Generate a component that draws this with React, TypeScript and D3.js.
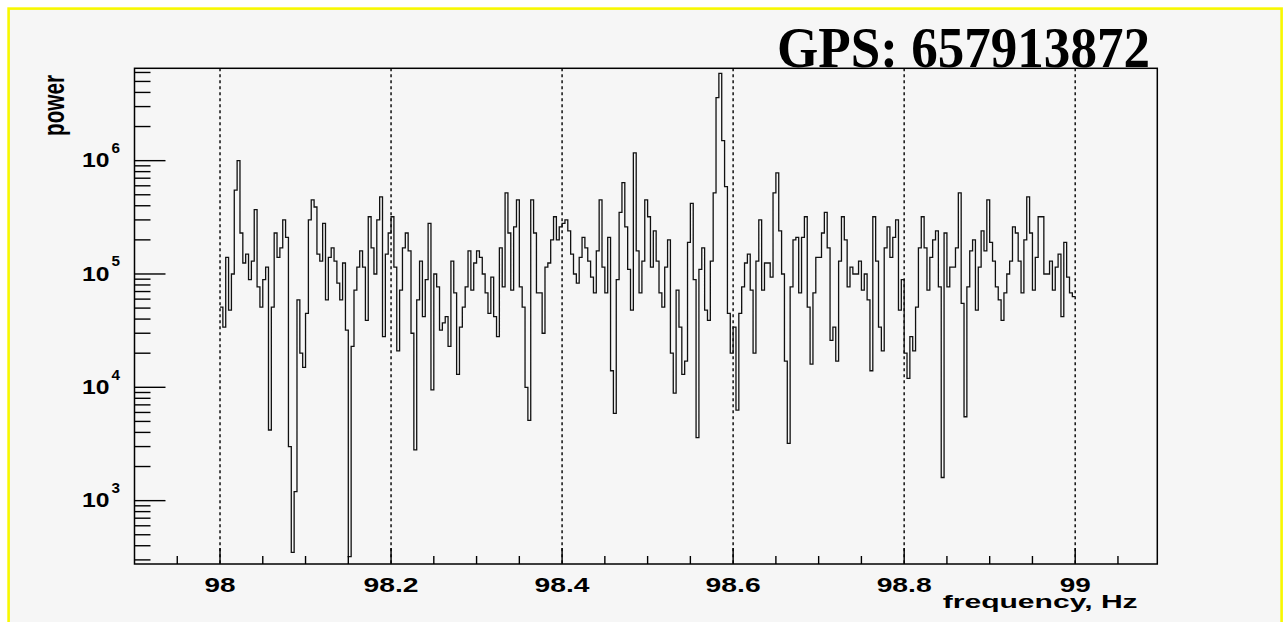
import React from "react";
import * as d3 from "d3";

// ---- data ----
const binStart = 98.0; // Hz, low edge of first bin
const binWidth = 1 / 300; // Hz
const power: number[] = [
  5.1e4, 3.4e4, 1.4e5, 4.8e4, 1.0e5, 5.5e5, 1.0e6, 2.3e5, 1.25e5, 1.5e5,
  8.9e4, 1.3e5, 3.7e5, 7.7e4, 5.1e4, 8.9e4, 1.15e5, 4.2e3, 5.1e4, 2.3e5,
  1.4e5, 1.7e5, 3.0e5, 2.1e5, 3.0e3, 3.5e2, 1.2e3, 5.9e4, 2.0e4, 1.5e4,
  4.5e4, 3.0e5, 4.5e5, 3.9e5, 1.5e5, 1.3e5, 2.8e5, 5.9e4, 1.4e5, 1.7e5,
  1.3e5, 8.3e4, 5.9e4, 1.25e5, 3.2e4, 3.2e2, 2.3e4, 7.2e4, 1.15e5, 1.6e5,
  1.15e5, 3.9e4, 3.2e5, 1.7e5, 1.0e5, 3.0e5, 4.8e5, 2.8e4, 1.5e5, 2.3e5,
  3.2e5, 1.15e5, 2.1e4, 7.2e4, 1.7e5, 2.3e5, 1.6e5, 3.0e4, 2.8e3, 5.9e4,
  1.3e5, 4.2e4, 8.9e4, 2.8e5, 9.5e3, 1.0e5, 7.7e4, 3.2e4, 3.7e4, 4.2e4,
  2.3e4, 1.3e5, 6.8e4, 1.3e4, 3.4e4, 5.1e4, 7.7e4, 1.6e5, 7.2e4, 1.25e5,
  1.6e5, 1.4e5, 1.0e5, 6.8e4, 4.5e4, 9.4e4, 4.2e4, 2.8e4, 1.7e5, 7.7e4,
  5.2e5, 2.3e5, 7.2e4, 2.6e5, 4.5e5, 7.7e4, 5.1e4, 1.0e4, 5.1e3, 4.5e5,
  2.3e5, 6.8e4, 6.8e4, 3.0e4, 1.15e5, 1.25e5, 2.0e5, 3.2e5, 2.0e5, 2.6e5,
  2.8e5, 3.0e5, 2.4e5, 1.5e5, 1.0e5, 8.3e4, 1.4e5, 2.1e5, 1.7e5, 1.3e5,
  9.4e4, 6.8e4, 1.6e5, 4.5e5, 1.15e5, 6.8e4, 2.1e5, 1.4e4, 5.9e3, 8.9e4,
  3.5e5, 6.4e5, 2.6e5, 1.1e5, 4.8e4, 1.17e6, 1.6e5, 6.8e4, 1.3e5, 4.5e5,
  3.2e5, 1.15e5, 2.4e5, 1.3e5, 6.8e4, 5.1e4, 1.15e5, 2.0e5, 2.0e4, 8.9e3,
  7.2e4, 3.4e4, 1.3e4, 1.7e4, 1.9e5, 4.2e5, 8.9e4, 3.6e3, 1.1e5, 1.7e5,
  4.8e4, 3.9e4, 1.3e5, 5.2e5, 3.6e6, 5.9e6, 1.5e6, 5.9e5, 4.5e4, 2.0e4,
  3.4e4, 6.3e3, 4.5e4, 7.7e4, 1.25e5, 1.5e5, 7.2e4, 2.0e4, 1.3e5, 3.0e5,
  7.2e4, 1.25e5, 1.25e5, 9.4e4, 5.2e5, 7.8e5, 2.4e5, 1.0e5, 1.7e4, 3.2e3,
  7.7e4, 2.0e5, 2.1e5, 6.8e4, 2.1e5, 3.2e5, 5.1e4, 1.6e4, 6.8e4, 1.4e5,
  1.4e5, 2.3e5, 3.5e5, 1.7e5, 2.6e4, 3.4e4, 1.7e4, 1.3e5, 3.2e5, 2.0e5,
  7.7e4, 1.15e5, 1.0e5, 1.0e5, 1.3e5, 7.2e4, 1.0e5, 5.9e4, 1.4e4, 3.2e5,
  1.3e5, 3.4e4, 2.1e4, 1.7e5, 2.6e5, 1.4e5, 2.1e5, 3.0e5, 4.8e4, 8.9e4,
  2.0e4, 1.2e4, 2.8e4, 2.1e4, 5.1e4, 1.7e5, 3.2e5, 1.7e5, 7.2e4, 1.4e5,
  2.0e5, 2.4e5, 7.7e4, 1.6e3, 2.3e5, 7.7e4, 1.15e5, 1.15e5, 1.7e5, 5.2e5,
  5.5e4, 5.5e3, 7.7e4, 1.6e5, 2.0e5, 4.8e4, 1.15e5, 2.4e5, 1.6e5, 4.5e5,
  1.9e5, 1.3e5, 7.7e4, 5.9e4, 3.9e4, 6.8e4, 1.0e5, 1.3e5, 2.6e5, 2.3e5,
  1.3e5, 6.8e4, 2.0e5, 4.8e5, 2.3e5, 7.2e4, 1.4e5, 3.2e5, 3.2e5, 1.0e5,
  1.0e5, 1.3e5, 7.2e4, 1.15e5, 1.5e5, 4.2e4, 1.9e5, 9.4e4, 6.8e4, 6.3e4,
];
const xMajorTicks = [98, 98.2, 98.4, 98.6, 98.8, 99];
const xTickLabels = ["98", "98.2", "98.4", "98.6", "98.8", "99"];
const xMinorTicks = [97.95, 98.05, 98.1, 98.15, 98.25, 98.3, 98.35, 98.45, 98.5, 98.55, 98.65, 98.7, 98.75, 98.85, 98.9, 98.95, 99.05];
const yDecadeExponents = [3, 4, 5, 6];
const titleText = "GPS: 657913872";
const xTitle = "frequency, Hz";
const yTitle = "power";

const SANS = "'Liberation Sans', Arial, Helvetica, sans-serif";
const SERIF = "'Liberation Serif', 'Times New Roman', serif";

export default function App() {
  const W = 1283;
  const H = 622;
  const left = 134.5;
  const right = 1157.3;
  const top = 68.3;
  const bottom = 564;

  const x = d3.scaleLinear().domain([97.9, 99.096]).range([left, right]);
  const y = d3.scaleLog().domain([276, 6.53e6]).range([bottom, top]);

  const pts: [number, number][] = power.map((v, i) => [binStart + i * binWidth, v]);
  pts.push([binStart + power.length * binWidth, power[power.length - 1]]);
  const line = d3
    .line<[number, number]>()
    .x((d) => x(d[0]))
    .y((d) => y(d[1]))
    .curve(d3.curveStepAfter);

  const [yMin, yMax] = y.domain();
  const yMinor: number[] = [];
  for (let n = 2; n <= 6; n++) {
    for (let k = 2; k <= 9; k++) {
      const v = k * Math.pow(10, n);
      if (v >= yMin && v <= yMax) yMinor.push(v);
    }
  }

  const labelWidth = (s: string) => {
    let w = 0;
    for (const c of s) w += c === "." ? 8.5 : 15.5;
    return w;
  };

  return (
    <svg
      width={W}
      height={H}
      style={{ position: "absolute", left: 0, top: 0, display: "block", background: "#ffffff" }}
    >
      <rect x={8.6} y={8.6} width={1273} height={700} fill="#f6f6f6" stroke="#f8f800" strokeWidth={2.6} />

      {/* vertical dotted grid */}
      {xMajorTicks.map((t) => (
        <line
          key={"g" + t}
          x1={x(t)}
          x2={x(t)}
          y1={top}
          y2={bottom}
          stroke="#111"
          strokeWidth={1.5}
          strokeDasharray="3,3"
        />
      ))}

      {/* data */}
      <path d={line(pts) || ""} fill="none" stroke="#111" strokeWidth={1.3} />

      {/* frame */}
      <rect x={left} y={top} width={right - left} height={bottom - top} fill="none" stroke="#000" strokeWidth={1.5} />

      {/* x ticks */}
      {xMajorTicks.map((t) => (
        <line key={"xM" + t} x1={x(t)} x2={x(t)} y1={bottom} y2={bottom - 16} stroke="#000" strokeWidth={1.4} />
      ))}
      {xMinorTicks.map((t) => (
        <line key={"xm" + t} x1={x(t)} x2={x(t)} y1={bottom} y2={bottom - 8} stroke="#000" strokeWidth={1.4} />
      ))}
      {xMajorTicks.map((t, i) => (
        <text
          key={"xl" + t}
          x={x(t)}
          y={592}
          textAnchor="middle"
          fontFamily={SANS}
          fontWeight="bold"
          fontSize={19.5}
          textLength={labelWidth(xTickLabels[i])}
          lengthAdjust="spacingAndGlyphs"
          fill="#000"
        >
          {xTickLabels[i]}
        </text>
      ))}

      {/* y ticks */}
      {yDecadeExponents.map((e) => (
        <line
          key={"yM" + e}
          x1={left}
          x2={left + 31}
          y1={y(Math.pow(10, e))}
          y2={y(Math.pow(10, e))}
          stroke="#000"
          strokeWidth={1.4}
        />
      ))}
      {yMinor.map((v) => (
        <line key={"ym" + v} x1={left} x2={left + 16} y1={y(v)} y2={y(v)} stroke="#000" strokeWidth={1.4} />
      ))}
      {yDecadeExponents.map((e) => {
        const ty = y(Math.pow(10, e));
        return (
          <g key={"yl" + e} fontFamily={SANS} fontWeight="bold" fill="#000">
            <text x={82} y={ty + 6.8} fontSize={20} textLength={27.5} lengthAdjust="spacingAndGlyphs">
              10
            </text>
            <text x={111.5} y={ty - 7.5} fontSize={14} textLength={8.5} lengthAdjust="spacingAndGlyphs">
              {String(e)}
            </text>
          </g>
        );
      })}

      {/* axis titles */}
      <text
        x={1137.7}
        y={608}
        textAnchor="end"
        fontFamily={SANS}
        fontWeight="bold"
        fontSize={19}
        textLength={195}
        lengthAdjust="spacingAndGlyphs"
        fill="#000"
      >
        {xTitle}
      </text>
      <text
        transform="translate(63.5,75) rotate(-90) scale(1,1.4)"
        textAnchor="end"
        fontFamily={SANS}
        fontWeight="bold"
        fontSize={20.5}
        textLength={61}
        lengthAdjust="spacingAndGlyphs"
        fill="#000"
      >
        {yTitle}
      </text>

      {/* title */}
      <text
        x={777}
        y={67}
        fontFamily={SERIF}
        fontWeight="bold"
        fontSize={56}
        textLength={373}
        lengthAdjust="spacingAndGlyphs"
        fill="#000"
      >
        {titleText}
      </text>
    </svg>
  );
}
